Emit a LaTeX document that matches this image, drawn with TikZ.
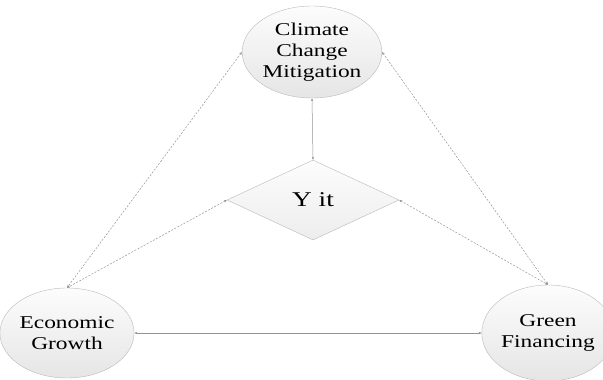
\documentclass[tikz,border=0pt]{standalone}
\usepackage{fontspec}
\setmainfont{Liberation Serif}
\usepackage{graphicx}
\usetikzlibrary{shapes.geometric,arrows.meta}

\newcommand{\hstretch}[1]{\scalebox{1.3}[1]{#1}}

\tikzset{
  bubble/.style={ellipse, draw=gray!55, top color=gray!2, bottom color=gray!20,
    inner sep=0pt, align=center, font=\fontsize{18}{21}\selectfont},
  core/.style={diamond, draw=gray!55, top color=gray!2, bottom color=gray!14,
    inner sep=0pt, minimum width=172pt, minimum height=80pt, font=\fontsize{21}{24}\selectfont},
  link/.style={draw=gray!85, line width=0.5pt,
    {Stealth[length=3pt,width=2.4pt]}-{Stealth[length=3pt,width=2.4pt]}},
  dlink/.style={link, dash pattern=on 2pt off 1.5pt}
}

\begin{document}
\begin{tikzpicture}[x=1pt,y=1pt]
    \useasboundingbox (0,0) rectangle (603,380);
    \node[bubble, minimum width=118pt, minimum height=92pt] (ccm) at (312,328)
        {\hstretch{Climate}\\\hstretch{Change}\\\hstretch{Mitigation}};
    \node[core] (yit) at (313,180) {\hstretch{Y it}};
    \node[bubble, minimum width=120pt, minimum height=90pt] (eg) at (67,47)
        {\hstretch{Economic}\\\hstretch{Growth}};
    \node[bubble, minimum width=112pt, minimum height=96pt] (gf) at (548,47)
        {\hstretch{Green}\\\hstretch{Financing}};
    \draw[link] (yit.north) -- (ccm.south);
    \draw[link] (eg.east) -- (gf.west);
    \draw[dlink] (ccm.west) -- (eg.north);
    \draw[dlink] (yit.west) -- (eg.north);
    \draw[dlink] (ccm.east) -- (gf.north);
    \draw[dlink] (yit.east) -- (gf.north);
\end{tikzpicture}
\end{document}
